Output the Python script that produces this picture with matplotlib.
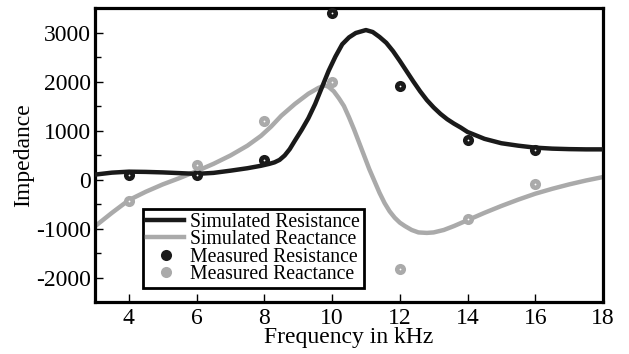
import matplotlib
matplotlib.use("Agg")
import matplotlib.pyplot as plt
from matplotlib.ticker import MultipleLocator
from matplotlib.lines import Line2D

plt.rcParams['font.family'] = ['Liberation Serif', 'DejaVu Serif']
plt.rcParams['axes.unicode_minus'] = False

# Simulated resistance
res_freq = [3, 3.5, 4, 4.5, 5, 5.5, 6, 6.5, 7, 7.5, 7.9, 8.15, 8.3, 8.45, 8.6, 8.75, 8.9, 9.1, 9.3, 9.5, 9.7, 9.9,
            10.1, 10.3, 10.5, 10.7, 11, 11.2, 11.4, 11.6, 11.8, 12, 12.2, 12.4, 12.6, 12.8, 13, 13.2,
            13.4, 13.6, 13.8, 14, 14.5, 15, 15.5, 16, 16.5, 17, 17.5, 18]
res_sim = [100, 140, 160, 155, 145, 130, 115, 135, 180, 230, 280, 320, 350, 400, 490, 620, 790, 1010, 1250, 1540, 1880, 2220,
           2510, 2760, 2900, 2990, 3050, 3010, 2910, 2790, 2620, 2420, 2210, 2000, 1800, 1620, 1470, 1340,
           1230, 1140, 1060, 970, 830, 740, 690, 650, 630, 620, 615, 615]

# Simulated reactance
rea_freq = [3, 3.5, 4, 4.5, 5, 5.5, 6, 6.5, 7, 7.5, 7.9, 8.2, 8.5, 8.9, 9.3, 9.6, 9.8, 9.9, 10.05, 10.2,
            10.35, 10.5, 10.65, 10.8, 10.95, 11.1, 11.25, 11.4, 11.55, 11.7, 11.85, 12.0, 12.15, 12.35,
            12.55, 12.8, 13.0, 13.3, 13.6, 14, 14.5, 15, 15.5, 16, 16.5, 17, 17.5, 18]
rea_sim = [-955, -680, -420, -250, -100, 30, 170, 320, 490, 690, 890, 1080, 1300, 1540, 1750, 1870, 1920, 1890, 1800, 1660,
           1500, 1270, 1020, 750, 480, 210, -30, -270, -480, -650, -780, -880, -950, -1030,
           -1080, -1090, -1080, -1030, -950, -830, -680, -540, -410, -290, -190, -100, -20, 50]

# Measured points
meas_freq = [4, 6, 8, 10, 12, 14, 16]
meas_res = [100, 100, 400, 3400, 1900, 800, 600]
meas_rea = [-430, 300, 1200, 2000, -1820, -810, -100]

black = '#1a1a1a'
gray = '#aaaaaa'

fig = plt.figure(figsize=(6.29, 3.54), dpi=100)
ax = fig.add_axes([95/629, 1 - 302/354, (603-95)/629, (302-8)/354])

ax.plot(res_freq, res_sim, color=black, lw=3.2, solid_joinstyle='round', zorder=3)
ax.plot(rea_freq, rea_sim, color=gray, lw=3.2, solid_joinstyle='round', zorder=2)
ax.plot(meas_freq, meas_res, 'o', color=black, ms=8, mew=0, zorder=4)
ax.plot(meas_freq, meas_res, 'o', color='white', ms=1.3, mew=0, zorder=5)
ax.plot(meas_freq, meas_rea, 'o', color=gray, ms=8, mew=0, zorder=4)
ax.plot(meas_freq, meas_rea, 'o', color='white', ms=1.3, mew=0, zorder=5)

ax.set_xlim(3, 18)
ax.set_ylim(-2500, 3500)
ax.xaxis.set_major_locator(MultipleLocator(2))
ax.yaxis.set_major_locator(MultipleLocator(1000))
ax.yaxis.set_minor_locator(MultipleLocator(500))
ax.tick_params(direction='in', labelsize=17, length=6, width=1)
ax.tick_params(which='minor', direction='in', length=4, width=1)
ax.tick_params(axis='x', pad=4)
ax.tick_params(axis='y', pad=3)
for s in ax.spines.values():
    s.set_linewidth(2.3)

ax.set_xlabel('Frequency in kHz', fontsize=17, labelpad=-1)
ax.set_ylabel('Impedance', fontsize=17, labelpad=1)

handles = [
    Line2D([], [], color=black, lw=3.2),
    Line2D([], [], color=gray, lw=3.2),
    Line2D([], [], marker='o', color=black, ls='none', ms=8, mew=0),
    Line2D([], [], marker='o', color=gray, ls='none', ms=8, mew=0),
]
labels = ['Simulated Resistance', 'Simulated Reactance', 'Measured Resistance', 'Measured Reactance']
leg = ax.legend(handles, labels, loc='lower left', bbox_to_anchor=(48/508, 14/294),
                fontsize=14.2, frameon=True, fancybox=False, edgecolor='black',
                handlelength=1.9, handletextpad=0.3, labelspacing=-0.08,
                borderpad=0.2, borderaxespad=0, framealpha=1)
leg.get_frame().set_linewidth(2)

fig.savefig('out.png', dpi=100)
